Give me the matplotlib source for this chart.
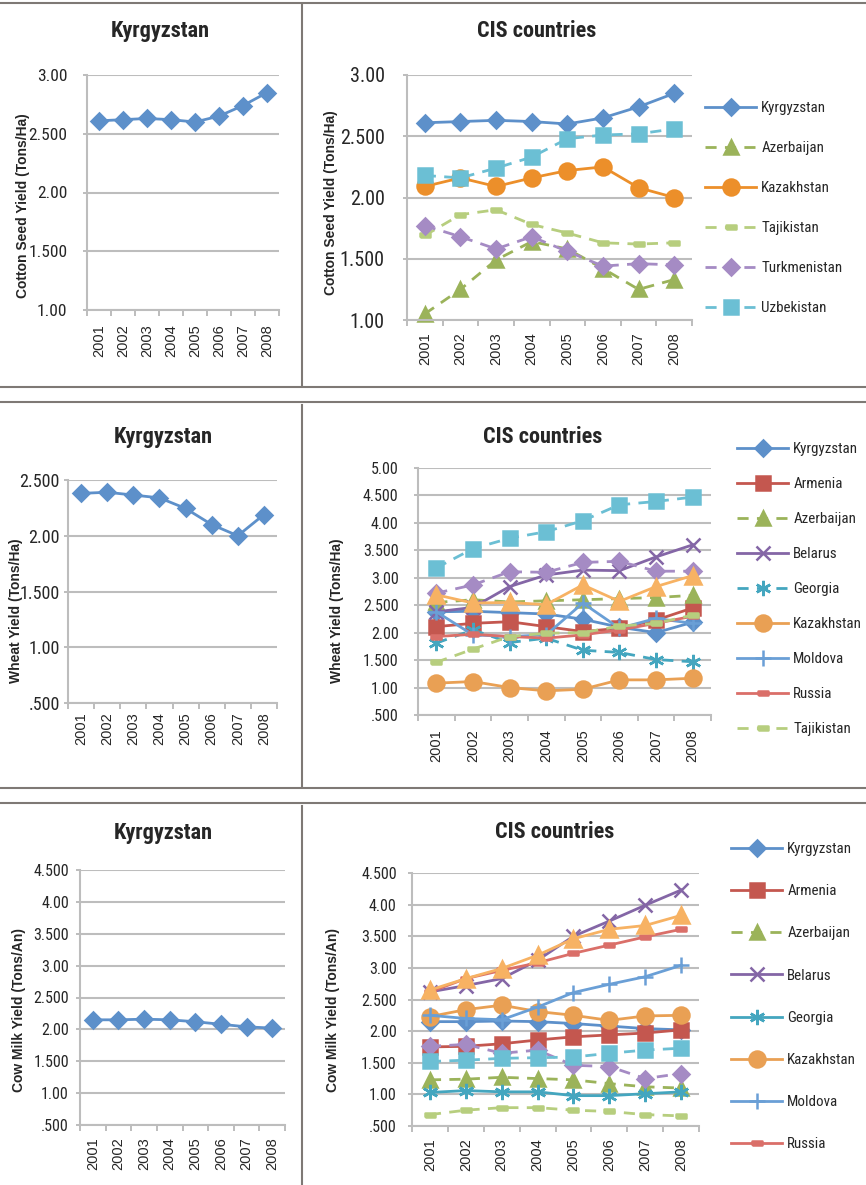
import matplotlib
matplotlib.use('Agg')
import matplotlib.pyplot as plt
from matplotlib import font_manager
from matplotlib.lines import Line2D

W, H = 866, 1185

years = ['2001', '2002', '2003', '2004', '2005', '2006', '2007', '2008']

# cotton seed yield (tons/ha)
cotton_kyrgyzstan = [2.61, 2.62, 2.63, 2.62, 2.60, 2.65, 2.74, 2.85]
cotton_azerbaijan = [1.05, 1.25, 1.49, 1.64, 1.58, 1.42, 1.25, 1.33]
cotton_kazakhstan = [2.09, 2.16, 2.09, 2.16, 2.22, 2.25, 2.08, 2.00]
cotton_tajikistan = [1.69, 1.86, 1.90, 1.78, 1.71, 1.63, 1.62, 1.63]
cotton_turkmenistan = [1.77, 1.68, 1.58, 1.68, 1.56, 1.44, 1.46, 1.45]
cotton_uzbekistan = [2.18, 2.16, 2.24, 2.33, 2.48, 2.51, 2.52, 2.56]

# wheat yield (tons/ha)
wheat_kyrgyzstan = [2.38, 2.39, 2.365, 2.34, 2.245, 2.10, 2.00, 2.19]
wheat_armenia = [2.11, 2.17, 2.20, 2.11, 2.02, 2.08, 2.23, 2.45]
wheat_azerbaijan = [2.55, 2.60, 2.56, 2.58, 2.60, 2.62, 2.64, 2.68]
wheat_belarus = [2.38, 2.46, 2.84, 3.05, 3.14, 3.13, 3.38, 3.60]
wheat_georgia = [1.81, 2.05, 1.82, 1.90, 1.68, 1.64, 1.51, 1.47]
wheat_kazakhstan = [1.08, 1.11, 1.00, 0.94, 0.97, 1.14, 1.14, 1.17]
wheat_moldova = [2.38, 1.96, 1.93, 1.96, 2.54, 2.08, 2.26, 2.17]
wheat_russia = [1.93, 1.97, 1.93, 1.90, 1.96, 2.05, 2.17, 2.30]
wheat_tajikistan = [1.46, 1.70, 1.93, 1.99, 2.00, 2.12, 2.17, 2.32]
wheat_turkmenistan = [2.72, 2.87, 3.11, 3.10, 3.28, 3.30, 3.12, 3.12]
wheat_uzbekistan = [3.18, 3.53, 3.72, 3.84, 4.04, 4.33, 4.39, 4.47]
wheat_ukraine = [2.69, 2.54, 2.55, 2.51, 2.87, 2.57, 2.84, 3.04]

# cow milk yield (tons/animal)
milk_kyrgyzstan = [2.15, 2.15, 2.16, 2.15, 2.12, 2.08, 2.04, 2.02]
milk_armenia = [1.75, 1.76, 1.80, 1.86, 1.91, 1.94, 1.97, 2.02]
milk_azerbaijan = [1.23, 1.24, 1.27, 1.25, 1.23, 1.17, 1.12, 1.10]
milk_belarus = [2.62, 2.72, 2.83, 3.12, 3.50, 3.74, 3.99, 4.23]
milk_georgia = [1.03, 1.06, 1.04, 1.04, 0.98, 0.98, 1.01, 1.04]
milk_kazakhstan = [2.23, 2.34, 2.41, 2.31, 2.25, 2.17, 2.24, 2.25]
milk_moldova = [2.25, 2.20, 2.18, 2.38, 2.61, 2.74, 2.86, 3.04]
milk_russia = [2.62, 2.83, 2.96, 3.08, 3.23, 3.36, 3.49, 3.61]
milk_tajikistan = [0.68, 0.75, 0.79, 0.79, 0.75, 0.73, 0.68, 0.66]
milk_turkmenistan = [1.76, 1.79, 1.65, 1.70, 1.46, 1.44, 1.25, 1.33]
milk_uzbekistan = [1.52, 1.54, 1.57, 1.58, 1.59, 1.65, 1.70, 1.73]
milk_ukraine = [2.65, 2.83, 2.99, 3.20, 3.46, 3.61, 3.67, 3.83]

cotton_ticks = ['1.00', '1.500', '2.00', '2.500', '3.00']
wheat_left_ticks = ['.500', '1.00', '1.500', '2.00', '2.500']
wheat_ticks = ['.500', '1.00', '1.500', '2.00', '2.500', '3.00', '3.500', '4.00', '4.500', '5.00']
milk_ticks = ['.500', '1.00', '1.500', '2.00', '2.500', '3.00', '3.500', '4.00', '4.500']

GRID = '#BDBDBD'
FRAME = '#7E7975'
TEXT = '#262626'

# pick a narrow face for horizontal text if one is installed
fonts = font_manager.fontManager.ttflist
names = {f.name for f in fonts}
NARROW = dict(fontfamily='Liberation Sans')
NS = 0.84
for fam in ('Liberation Sans Narrow', 'Arial Narrow', 'Roboto Condensed', 'Open Sans Condensed'):
    if fam in names:
        NARROW, NS = dict(fontfamily=fam), 1.0
        break
else:
    for fam in ('Noto Sans', 'Open Sans', 'DejaVu Sans', 'Roboto', 'Inter'):
        if any(f.name == fam and f.stretch in ('condensed', 'semi-condensed', 'extra-condensed')
               for f in fonts):
            NARROW, NS = dict(fontfamily=fam, fontstretch='condensed'), 0.98
            break
REG = 'Liberation Sans'

# short horizontal bar marker (Excel "dash")
DASH = [(-1, -0.5), (1, -0.5), (1, 0.5), (-1, 0.5), (-1, -0.5)]
STAR = (6, 2, 0)

STYLE = {
    'Kyrgyzstan': ('#5D90CA', 'D', 8.4),
    'Armenia': ('#C4574F', 's', 10.5),
    'Azerbaijan': ('#9BB35A', '^', 10),
    'Belarus': ('#8466A6', 'x', 10),
    'Georgia': ('#44A6BF', STAR, 11),
    'Kazakhstan': ('#E9A054', 'o', 11.5),
    'Moldova': ('#6A9FD6', '+', 12),
    'Russia': ('#DA6F69', DASH, 6.5),
    'Tajikistan': ('#B7CE7E', DASH, 6.5),
    'Turkmenistan': ('#A58BC4', 'D', 8),
    'Uzbekistan': ('#6BBFD4', 's', 10.5),
    'Ukraine': ('#F7B263', '^', 11),
}
DASHED = (0, (4, 3))

plt.rcParams['font.family'] = REG
plt.rcParams['text.color'] = TEXT

fig = plt.figure(figsize=(W / 100, H / 100), dpi=100)


def axes_px(l, t, r, b):
    return fig.add_axes([l / W, 1 - b / H, (r - l) / W, (b - t) / H])


def setup(ax, ylo, labels, yfs, ypad, xpad):
    ticks = [ylo + 0.5 * i for i in range(len(labels))]
    ax.set_xlim(-0.5, 7.5)
    ax.set_ylim(ticks[0], ticks[-1])
    ax.set_yticks(ticks, labels, fontsize=yfs * NS, color=TEXT, **NARROW)
    ax.set_xticks(range(len(years)), years, rotation=90, fontfamily=REG, fontsize=10.5, color=TEXT)
    ax.set_xticks([i - 0.5 for i in range(len(years) + 1)], minor=True)
    ax.tick_params(axis='x', which='major', length=0, pad=xpad)
    ax.tick_params(axis='x', which='minor', length=4, width=1.4, color=GRID, direction='out')
    ax.tick_params(axis='y', length=3, width=1.4, color=GRID, pad=ypad)
    ax.grid(axis='y', color=GRID, lw=1.5)
    ax.set_axisbelow(True)
    for side in ('top', 'right'):
        ax.spines[side].set_visible(False)
    for side in ('left', 'bottom'):
        ax.spines[side].set_color(GRID)
        ax.spines[side].set_linewidth(1.5)


def draw(ax, series, colors=None):
    lines = []
    for name, vals, dashed in series:
        color, marker, ms = STYLE[name]
        if colors and name in colors:
            color = colors[name]
        ln, = ax.plot(range(len(years)), vals, color=color, lw=2.0,
                      ls=DASHED if dashed else '-', marker=marker, ms=ms,
                      mfc=color, mec=color, mew=1.8, label=name, clip_on=False)
        lines.append(ln)
    return lines


def legend(ax, lines, n, x, y, spacing):
    prop = {'size': 10.8 * NS, 'family': NARROW['fontfamily']}
    if 'fontstretch' in NARROW:
        prop['stretch'] = NARROW['fontstretch']
    ax.legend(lines[:n], [l.get_label() for l in lines[:n]], loc='upper left',
              bbox_to_anchor=(x / W, 1 - y / H), bbox_transform=fig.transFigure,
              frameon=False, borderpad=0, borderaxespad=0, handlelength=3.4,
              handletextpad=0.35, labelspacing=spacing, prop=prop)


def title(x, y, s):
    fig.text(x / W, 1 - y / H, s, ha='center', va='center', fontweight='bold',
             fontsize=16 * NS, color=TEXT, **NARROW)


def ylabel(x, y, s):
    fig.text(x / W, 1 - y / H, s, ha='center', va='center', rotation=90,
             fontfamily=REG, fontweight='bold', fontsize=10, color=TEXT)


# panel frames
for yy in (3, 387, 402, 788, 803):
    fig.add_artist(Line2D([0, 1], [1 - yy / H] * 2, color=FRAME, lw=1.5))
for y0, y1 in ((5, 385), (405, 786), (806, 1185)):
    fig.add_artist(Line2D([302 / W] * 2, [1 - y0 / H, 1 - y1 / H], color=FRAME, lw=1.5))

# cotton
ax = axes_px(87, 75, 279, 310)
setup(ax, 1.0, cotton_ticks, 12.5, 11, 10)
draw(ax, [('Kyrgyzstan', cotton_kyrgyzstan, False)])
title(160, 31, 'Kyrgyzstan')
ylabel(23, 206, 'Cotton Seed Yield (Tons/Ha)')

ax = axes_px(407, 75, 692, 320)
setup(ax, 1.0, cotton_ticks, 14.5, 13, 9)
lines = draw(ax, [
    ('Kyrgyzstan', cotton_kyrgyzstan, False),
    ('Azerbaijan', cotton_azerbaijan, True),
    ('Kazakhstan', cotton_kazakhstan, False),
    ('Tajikistan', cotton_tajikistan, True),
    ('Turkmenistan', cotton_turkmenistan, True),
    ('Uzbekistan', cotton_uzbekistan, True),
], colors={'Kazakhstan': '#EC8F2A'})
legend(ax, lines, 6, 705, 101, 1.73)
title(537, 31, 'CIS countries')
ylabel(331, 203, 'Cotton Seed Yield (Tons/Ha)')

# wheat
ax = axes_px(68, 480, 277, 703)
setup(ax, 0.5, wheat_left_ticks, 13, 3, 7)
draw(ax, [('Kyrgyzstan', wheat_kyrgyzstan, False)])
title(163, 437, 'Kyrgyzstan')
ylabel(16, 611, 'Wheat Yield (Tons/Ha)')

ax = axes_px(418, 468, 711, 715)
setup(ax, 0.5, wheat_ticks, 11.5, 11, 10)
lines = draw(ax, [
    ('Kyrgyzstan', wheat_kyrgyzstan, False),
    ('Armenia', wheat_armenia, False),
    ('Azerbaijan', wheat_azerbaijan, True),
    ('Belarus', wheat_belarus, False),
    ('Georgia', wheat_georgia, True),
    ('Kazakhstan', wheat_kazakhstan, False),
    ('Moldova', wheat_moldova, False),
    ('Russia', wheat_russia, False),
    ('Tajikistan', wheat_tajikistan, True),
    ('Turkmenistan', wheat_turkmenistan, True),
    ('Uzbekistan', wheat_uzbekistan, True),
    ('Ukraine', wheat_ukraine, False),
])
legend(ax, lines, 9, 737, 442, 1.4)
title(543, 437, 'CIS countries')
ylabel(337, 611, 'Wheat Yield (Tons/Ha)')

# cow milk
ax = axes_px(80, 870, 285, 1125)
setup(ax, 0.5, milk_ticks, 11.5, 5, 9)
draw(ax, [('Kyrgyzstan', milk_kyrgyzstan, False)])
title(163, 833, 'Kyrgyzstan')
ylabel(19, 1010, 'Cow Milk Yield (Tons/An)')

ax = axes_px(412, 873, 699, 1126)
setup(ax, 0.5, milk_ticks, 11.5, 8, 9)
lines = draw(ax, [
    ('Kyrgyzstan', milk_kyrgyzstan, False),
    ('Armenia', milk_armenia, False),
    ('Azerbaijan', milk_azerbaijan, True),
    ('Belarus', milk_belarus, False),
    ('Georgia', milk_georgia, False),
    ('Kazakhstan', milk_kazakhstan, False),
    ('Moldova', milk_moldova, False),
    ('Russia', milk_russia, False),
    ('Tajikistan', milk_tajikistan, True),
    ('Turkmenistan', milk_turkmenistan, True),
    ('Uzbekistan', milk_uzbekistan, True),
    ('Ukraine', milk_ukraine, False),
])
legend(ax, lines, 8, 731, 842, 1.88)
title(555, 832, 'CIS countries')
ylabel(333, 1010, 'Cow Milk Yield (Tons/An)')

fig.savefig('out.png', dpi=100, facecolor='white')
